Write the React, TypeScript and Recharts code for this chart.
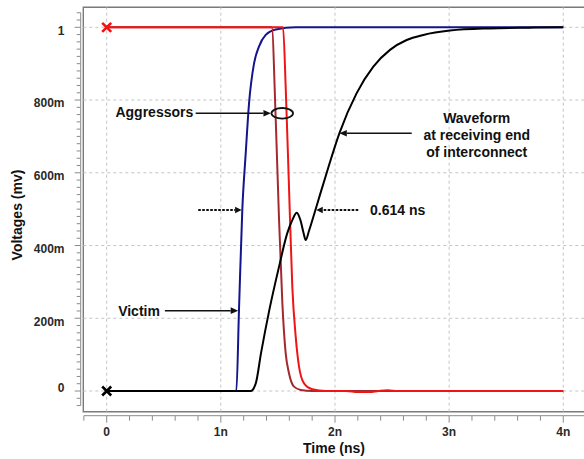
import React from 'react';
import {
  LineChart,
  Line,
  XAxis,
  YAxis,
  ReferenceLine,
  ReferenceArea,
  ReferenceDot,
  Customized,
} from 'recharts';

// ---------- data (time in ns, voltage in V) ----------
const victimTime = [0, 0.6, 1.0, 1.136, 1.159, 1.188, 1.218, 1.247, 1.291, 1.334, 1.393, 1.481, 1.656, 2.0, 2.6, 3.2, 4.0];
const victimVolt = [0, 0, 0, 0, 0.223, 0.498, 0.654, 0.791, 0.901, 0.947, 0.979, 0.994, 1.0, 1.0, 1.0, 1.0, 1.0];

const aggressorBTime = [0, 0.7, 1.4, 1.446, 1.481, 1.51, 1.539, 1.568, 1.597, 1.641, 1.7, 1.8, 2.0, 3.0, 4.0];
const aggressorBVolt = [1, 1, 1, 1.0, 0.745, 0.47, 0.241, 0.104, 0.049, 0.012, 0.003, 0, 0, 0, 0];

const aggressorATime = [0, 0.75, 1.5, 1.545, 1.568, 1.597, 1.626, 1.656, 1.685, 1.729, 1.801, 1.919, 2.1, 2.2, 2.3, 2.38, 2.46, 2.55, 3.0, 3.5, 4.0];
const aggressorAVolt = [1, 1, 1, 1.0, 0.837, 0.562, 0.287, 0.149, 0.067, 0.021, 0.005, 0, 0, -0.003, -0.003, 0, 0.002, 0, 0, 0, 0];

const receiverTime = [0, 0.8, 1.262, 1.306, 1.352, 1.425, 1.51, 1.582, 1.626, 1.665, 1.697, 1.725, 1.743, 1.772, 1.8, 1.83, 1.869, 1.939, 2.039, 2.19, 2.336, 2.482, 2.628, 2.774, 3.007, 3.358, 3.7, 4.0];
const receiverVolt = [0, 0, 0, 0.021, 0.104, 0.223, 0.342, 0.434, 0.47, 0.49, 0.47, 0.434, 0.415, 0.44, 0.468, 0.499, 0.54, 0.612, 0.709, 0.819, 0.892, 0.938, 0.965, 0.979, 0.991, 0.997, 0.999, 1.0];

// ---------- axes ----------
const xMajorTicks = [0, 1, 2, 3, 4];
const xTickLabels = ['0', '1n', '2n', '3n', '4n'];
const yMajorTicks = [0, 0.2, 0.4, 0.6, 0.8, 1];
const yTickLabels = ['0', '200m', '400m', '600m', '800m', '1'];
const xMinorTicks = Array.from({ length: 24 }, (_, i) => Math.round((-0.2 + i * 0.2) * 100) / 100);
const yMinorTicks = Array.from({ length: 55 }, (_, i) => Math.round((-0.04 + i * 0.02) * 100) / 100);

// ---------- annotation anchors (data coordinates) ----------
const aggressorNote = { t: 1.538, v: 0.7635 };
const victimNote = { t: 1.152, v: 0.221 };
const waveformNote = { t: 2.038, v: 0.7085 };
const leftDelayNote = { t: 1.182, v: 0.4977 };
const rightDelayNote = { t: 1.836, v: 0.4977 };

// ---------- layout ----------
const CHART_W = 620;
const CHART_H = 459;
const MARGIN_TOP = 7.3;
const Y_AXIS_W = 83.3;
const X_AXIS_H = 47.3;
const X_MIN = -0.205;
const X_MAX = 4.497;
const Y_MIN = -0.0569;
const Y_MAX = 1.055;
const PX_PER_NS = (CHART_W - Y_AXIS_W) / (X_MAX - X_MIN);
const PX_PER_V = (CHART_H - MARGIN_TOP - X_AXIS_H) / (Y_MAX - Y_MIN);
const FONT = '"Liberation Sans", Arial, Helvetica, sans-serif';
const AXIS_GRAY = '#7a7a7a';
const RULER_GRAY = '#8a8a8a';
const GRID_GRAY = '#c4c4c4';

const toPoints = (ts: number[], vs: number[]) => ts.map((t, i) => ({ t, v: vs[i] }));
const victimData = toPoints(victimTime, victimVolt);
const aggressorBData = toPoints(aggressorBTime, aggressorBVolt);
const aggressorAData = toPoints(aggressorATime, aggressorAVolt);
const receiverData = toPoints(receiverTime, receiverVolt);

const near = (a: number, b: number) => Math.abs(a - b) < 1e-6;

const YTick = (props: any) => {
  const { x, y, payload } = props;
  const v = payload.value;
  const mi = yMajorTicks.findIndex((m) => near(m, v));
  const rx = x - 2.6;
  const len = mi >= 0 ? 6 : 4;
  const step = 0.02 * PX_PER_V;
  const isBottom = near(v, yMinorTicks[0]);
  return (
    <g>
      {!isBottom && <line x1={rx} x2={rx} y1={y} y2={y + step} stroke={RULER_GRAY} strokeWidth={1} />}
      <line x1={rx - len} x2={rx} y1={y} y2={y} stroke={RULER_GRAY} strokeWidth={1} />
      {mi >= 0 && (
        <text
          x={rx - 16.2}
          y={y + (v === 0 ? 0.5 : 7.3)}
          textAnchor="end"
          fontFamily={FONT}
          fontWeight={700}
          fontSize={12}
          fill="#2a2a2a"
        >
          {yTickLabels[mi]}
        </text>
      )}
    </g>
  );
};

const XTick = (props: any) => {
  const { x, y, payload } = props;
  const t = payload.value;
  const mi = xMajorTicks.findIndex((m) => near(m, t));
  const ry = y + 4;
  const len = mi >= 0 ? 7 : 5;
  const step = 0.2 * PX_PER_NS;
  const isLast = near(t, xMinorTicks[xMinorTicks.length - 1]);
  return (
    <g>
      {!isLast && <line x1={x} x2={x + step} y1={ry} y2={ry} stroke={RULER_GRAY} strokeWidth={1} />}
      <line x1={x} x2={x} y1={ry} y2={ry + len} stroke={RULER_GRAY} strokeWidth={1} />
      {mi >= 0 && (
        <text x={x} y={y + 24.6} textAnchor="middle" fontFamily={FONT} fontWeight={700} fontSize={12} fill="#2a2a2a">
          {xTickLabels[mi]}
        </text>
      )}
    </g>
  );
};

const crossDot = (color: string) => (props: any) => {
  const { cx, cy, index } = props;
  if (index !== 0 || cx == null || cy == null) return <g key={`d-${index}`} />;
  const s = 4.5;
  return (
    <path
      key={`d-${index}`}
      d={`M${cx - s},${cy - s}L${cx + s},${cy + s}M${cx - s},${cy + s}L${cx + s},${cy - s}`}
      stroke={color}
      strokeWidth={2.6}
      fill="none"
    />
  );
};

const textStyle = { fontFamily: FONT, fontWeight: 700, fontSize: 14, fill: '#111' } as const;

const Arrow = ({ x1, y, x2, dashed }: { x1: number; y: number; x2: number; dashed?: boolean }) => {
  const dir = Math.sign(x2 - x1);
  const head = dashed ? 6.5 : 7.5;
  const half = dashed ? 3.2 : 3.3;
  return (
    <g>
      <line
        x1={x1}
        y1={y}
        x2={x2 - dir * head}
        y2={y}
        stroke="#111"
        strokeWidth={dashed ? 2 : 1.5}
        strokeDasharray={dashed ? '2.6 1.4' : undefined}
      />
      <polygon points={`${x2},${y} ${x2 - dir * head},${y - half} ${x2 - dir * head},${y + half}`} fill="#111" />
    </g>
  );
};

const AggressorShape = (p: any) => (
  <g>
    <ellipse cx={p.cx} cy={p.cy} rx={10.8} ry={5.3} fill="none" stroke="#111" strokeWidth={1.8} />
    <Arrow x1={p.cx - 86.6} x2={p.cx - 11.3} y={p.cy} />
    <text x={p.cx - 89} y={p.cy + 3.9} textAnchor="end" {...textStyle}>Aggressors</text>
  </g>
);

const VictimShape = (p: any) => (
  <g>
    <Arrow x1={p.cx - 73.3} x2={p.cx} y={p.cy} />
    <text x={p.cx - 78.3} y={p.cy + 5.3} textAnchor="end" {...textStyle}>Victim</text>
  </g>
);

const WaveformShape = (p: any) => (
  <g>
    <Arrow x1={p.cx + 72.4} x2={p.cx} y={p.cy} />
    <text x={p.cx + 137.4} y={p.cy - 10.6} textAnchor="middle" {...textStyle}>Waveform</text>
    <text x={p.cx + 137.4} y={p.cy + 6.4} textAnchor="middle" {...textStyle}>at receiving end</text>
    <text x={p.cx + 137.4} y={p.cy + 23.4} textAnchor="middle" {...textStyle}>of interconnect</text>
  </g>
);

const LeftDelayShape = (p: any) => (
  <g>
    <Arrow x1={p.cx - 43.4} x2={p.cx} y={p.cy} dashed />
  </g>
);

const RightDelayShape = (p: any) => (
  <g>
    <Arrow x1={p.cx + 42} x2={p.cx} y={p.cy} dashed />
    <text x={p.cx + 53.7} y={p.cy + 5.5} textAnchor="start" {...textStyle}>0.614 ns</text>
  </g>
);

const AxisTitles = () => (
  <g>
    <text x={334} y={452.7} textAnchor="middle" {...textStyle}>Time (ns)</text>
    <text transform="translate(22,215) rotate(-90)" x={0} y={0} textAnchor="middle" {...textStyle}>
      Voltages (mv)
    </text>
  </g>
);

export default function App() {
  return (
    <div
      style={{
        position: 'fixed',
        left: 0,
        top: 0,
        width: 584,
        height: 459,
        overflow: 'hidden',
        background: '#fff',
      }}
    >
      <LineChart width={CHART_W} height={CHART_H} margin={{ top: MARGIN_TOP, right: 0, bottom: 0, left: 0 }}>
        <XAxis
          dataKey="t"
          type="number"
          domain={[X_MIN, X_MAX]}
          allowDataOverflow
          ticks={xMinorTicks}
          interval={0}
          height={X_AXIS_H}
          axisLine={false}
          tickLine={false}
          tickSize={0}
          tickMargin={0}
          tick={(props: any) => <XTick {...props} />}
        />
        <YAxis
          type="number"
          domain={[Y_MIN, Y_MAX]}
          allowDataOverflow
          ticks={yMinorTicks}
          interval={0}
          width={Y_AXIS_W}
          axisLine={false}
          tickLine={false}
          tickSize={0}
          tickMargin={0}
          tick={(props: any) => <YTick {...props} />}
        />
        {xMajorTicks.map((t) => (
          <ReferenceLine key={`gx-${t}`} x={t} stroke={GRID_GRAY} strokeDasharray="3 3" strokeWidth={1} />
        ))}
        {yMajorTicks.map((v) => (
          <ReferenceLine key={`gy-${v}`} y={v} stroke={GRID_GRAY} strokeDasharray="3 3" strokeWidth={1} />
        ))}
        <ReferenceArea
          x1={X_MIN}
          x2={X_MAX}
          y1={Y_MIN}
          y2={Y_MAX}
          fill="none"
          fillOpacity={0}
          stroke={AXIS_GRAY}
          strokeWidth={1.4}
        />
        <Line
          data={victimData}
          dataKey="v"
          type="monotone"
          stroke="#14148c"
          strokeWidth={2}
          dot={false}
          activeDot={false}
          isAnimationActive={false}
        />
        <Line
          data={aggressorBData}
          dataKey="v"
          type="monotone"
          stroke="#a3292e"
          strokeWidth={2}
          dot={false}
          activeDot={false}
          isAnimationActive={false}
        />
        <Line
          data={aggressorAData}
          dataKey="v"
          type="monotone"
          stroke="#f01414"
          strokeWidth={2}
          dot={crossDot('#f01414')}
          activeDot={false}
          isAnimationActive={false}
        />
        <Line
          data={receiverData}
          dataKey="v"
          type="monotone"
          stroke="#000"
          strokeWidth={2}
          dot={crossDot('#000')}
          activeDot={false}
          isAnimationActive={false}
        />
        <ReferenceDot x={aggressorNote.t} y={aggressorNote.v} r={0} shape={(p: any) => <AggressorShape {...p} />} />
        <ReferenceDot x={victimNote.t} y={victimNote.v} r={0} shape={(p: any) => <VictimShape {...p} />} />
        <ReferenceDot x={waveformNote.t} y={waveformNote.v} r={0} shape={(p: any) => <WaveformShape {...p} />} />
        <ReferenceDot x={leftDelayNote.t} y={leftDelayNote.v} r={0} shape={(p: any) => <LeftDelayShape {...p} />} />
        <ReferenceDot x={rightDelayNote.t} y={rightDelayNote.v} r={0} shape={(p: any) => <RightDelayShape {...p} />} />
        <Customized component={AxisTitles} />
      </LineChart>
    </div>
  );
}
